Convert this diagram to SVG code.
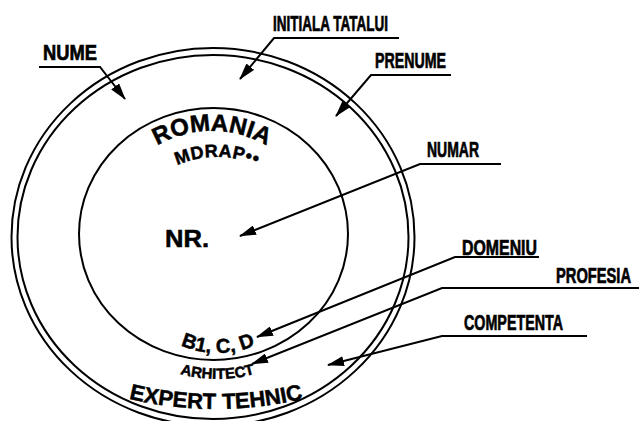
<svg xmlns="http://www.w3.org/2000/svg" width="640" height="421" viewBox="0 0 640 421">
<style>
.ring{fill:none;stroke:#000;stroke-width:2}
.lbl{font-family:"Liberation Sans",Arial,sans-serif;font-weight:bold;font-size:22px;fill:#000;stroke:#000;stroke-width:0.7}
.st{font-family:"Liberation Sans",Arial,sans-serif;font-weight:bold;fill:#000;stroke:#000;stroke-width:0.5}
.ld{fill:none;stroke:#000;stroke-width:2;marker-end:url(#ah)}
</style>
<defs>
<marker id="ah" markerUnits="userSpaceOnUse" markerWidth="17" markerHeight="10" refX="16" refY="5" orient="auto">
<path d="M0,0 L17,5 L0,10 z" fill="#000"/>
</marker>
<path id="pRom" d="M112,195.2 A110,110 0 0 1 312,195.2"/>
<path id="pMd" d="M117,257 A100,100 0 0 1 317,257"/>
<path id="pB1" d="M143,316.3 A95,95 0 0 0 293,316.3"/>
<path id="pAr" d="M127.5,346.2 A140,140 0 0 0 307.5,346.2"/>
<path id="pEx" d="M110,393.7 A374,374 0 0 0 322,393.7"/>
</defs>
<rect width="640" height="421" fill="#fff"/>
<g id="stamp">
<ellipse class="ring" cx="213" cy="237" rx="201.5" ry="189"/>
<ellipse class="ring" cx="213" cy="237" rx="195.5" ry="182"/>
<ellipse class="ring" cx="213.5" cy="234" rx="134.5" ry="126"/>
</g>
<g id="romania"><text class="st" font-size="24"><textPath href="#pRom" startOffset="50%" text-anchor="middle">ROMANIA</textPath></text></g>
<g id="mdrap"><text class="st" font-size="18" letter-spacing="0.5"><textPath href="#pMd" startOffset="50%" text-anchor="middle">MDRAP••</textPath></text></g>
<g id="nr"><text class="st" font-size="23" x="165" y="246.5" textLength="44" lengthAdjust="spacingAndGlyphs">NR.</text></g>
<g id="b1cd"><text class="st" font-size="20"><textPath href="#pB1" startOffset="50%" text-anchor="middle">B1, C, D</textPath></text></g>
<g id="arhitect"><text class="st" font-size="15"><textPath href="#pAr" startOffset="50%" text-anchor="middle">ARHITECT</textPath></text></g>
<g id="expert"><text class="st" font-size="22"><textPath href="#pEx" startOffset="50%" text-anchor="middle">EXPERT TEHNIC</textPath></text></g>
<g id="connectors">
<polyline class="ld" points="39,67 100,67 125,99"/>
<polyline class="ld" points="399,38 274,38 240,79"/>
<polyline class="ld" points="451,75 371,75 336,116"/>
<polyline class="ld" points="501,164 420,164 240,236"/>
<polyline class="ld" points="539,257 455,257 257,337"/>
<polyline class="ld" points="639,288 442,288 252,364"/>
<polyline class="ld" points="587,336 442,336 328,365"/>
</g>
<g id="lbl-nume"><text class="lbl" x="43" y="59.5" textLength="54" lengthAdjust="spacingAndGlyphs">NUME</text></g>
<g id="lbl-initiala"><text class="lbl" x="273" y="30.5" textLength="115" lengthAdjust="spacingAndGlyphs">INITIALA TATALUI</text></g>
<g id="lbl-prenume"><text class="lbl" x="375" y="67.5" textLength="71" lengthAdjust="spacingAndGlyphs">PRENUME</text></g>
<g id="lbl-numar"><text class="lbl" x="427" y="156.5" textLength="52" lengthAdjust="spacingAndGlyphs">NUMAR</text></g>
<g id="lbl-domeniu"><text class="lbl" x="462" y="254.5" textLength="75" lengthAdjust="spacingAndGlyphs">DOMENIU</text></g>
<g id="lbl-profesia"><text class="lbl" x="556" y="282.5" textLength="75" lengthAdjust="spacingAndGlyphs">PROFESIA</text></g>
<g id="lbl-competenta"><text class="lbl" x="464" y="329.5" textLength="99" lengthAdjust="spacingAndGlyphs">COMPETENTA</text></g>
</svg>
